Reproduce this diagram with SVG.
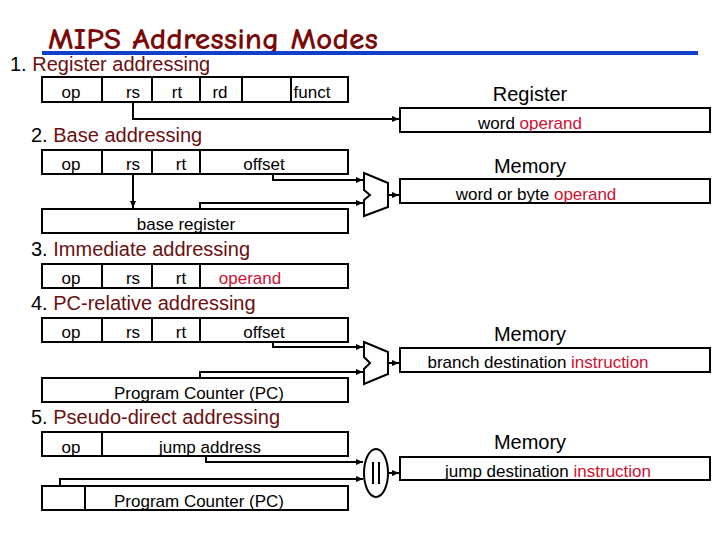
<svg xmlns="http://www.w3.org/2000/svg" width="720" height="540" viewBox="0 0 720 540">
<defs>
<marker id="ah" markerWidth="8" markerHeight="8" refX="7" refY="4" orient="auto" markerUnits="userSpaceOnUse"><path d="M0,1 L7,4 L0,7 Z" fill="#000"/></marker>
<style>
text{font-family:"Liberation Sans",Arial,sans-serif;fill:#000}
.f{font-size:17px;text-anchor:middle}
.h{font-size:20px}
.h tspan.r{fill:#6b0f0f}
.l{font-size:20px;text-anchor:middle}
.box{fill:#fff;stroke:#000;stroke-width:2}
.ln{fill:none;stroke:#000;stroke-width:2}
.w{fill:none;stroke:#000;stroke-width:2;marker-end:url(#ah)}
.red{fill:#d01030}
</style>
</defs>
<rect width="720" height="540" fill="#fff"/>
<g id="title">
<text x="48" y="49" style="font-family:'Comic Neue','DejaVu Sans',sans-serif;font-size:30px;fill:#7a0a0a;font-weight:bold" textLength="330" lengthAdjust="spacingAndGlyphs">MIPS Addressing Modes</text>
<rect x="42" y="51" width="656" height="4" fill="#1040c8"/>
</g>
<g id="h1"><text class="h" x="10" y="71">1. <tspan class="r">Register addressing</tspan></text></g>
<g id="instr1">
<rect class="box" x="42" y="77" width="306" height="25"/>
<path class="ln" d="M102,77V102M152,77V102M200,77V102M242,77V102M291,77V102"/>
<text class="f" x="71" y="98">op</text><text class="f" x="133" y="98">rs</text><text class="f" x="177" y="98">rt</text><text class="f" x="220" y="98">rd</text><text class="f" x="312" y="98">funct</text>
</g>
<g id="reg"><text class="l" x="530" y="101">Register</text>
<rect class="box" x="400" y="108" width="310" height="24"/>
<text class="f" x="530" y="129">word <tspan class="red">operand</tspan></text></g>
<g id="h2"><text class="h" x="31" y="142">2. <tspan class="r">Base addressing</tspan></text></g>
<g id="instr2">
<rect class="box" x="42" y="150" width="306" height="24"/>
<path class="ln" d="M102,150V174M152,150V174M200,150V174"/>
<text class="f" x="71" y="170">op</text><text class="f" x="133" y="170">rs</text><text class="f" x="181" y="170">rt</text><text class="f" x="264" y="170">offset</text>
</g>
<g id="mem2"><text class="l" x="530" y="173">Memory</text>
<rect class="box" x="400" y="179" width="310" height="24"/>
<text class="f" x="536" y="200">word or byte <tspan class="red">operand</tspan></text></g>
<g id="basereg"><rect class="box" x="42" y="209" width="306" height="24"/><text class="f" x="186" y="230">base register</text></g>
<g id="mux2"><path class="box" d="M364,173L388,183V207L364,216V200L370,195L364,190Z"/></g>
<g id="h3"><text class="h" x="31" y="256">3. <tspan class="r">Immediate addressing</tspan></text></g>
<g id="instr3">
<rect class="box" x="42" y="264" width="306" height="24"/>
<path class="ln" d="M102,264V288M152,264V288M200,264V288"/>
<text class="f" x="71" y="284">op</text><text class="f" x="133" y="284">rs</text><text class="f" x="181" y="284">rt</text><text class="f red" x="250" y="284">operand</text>
</g>
<g id="h4"><text class="h" x="31" y="310">4. <tspan class="r">PC-relative addressing</tspan></text></g>
<g id="instr4">
<rect class="box" x="42" y="318" width="306" height="24"/>
<path class="ln" d="M102,318V342M152,318V342M200,318V342"/>
<text class="f" x="71" y="338">op</text><text class="f" x="133" y="338">rs</text><text class="f" x="181" y="338">rt</text><text class="f" x="264" y="338">offset</text>
</g>
<g id="mem4"><text class="l" x="530" y="341">Memory</text>
<rect class="box" x="400" y="348" width="310" height="24"/>
<text class="f" x="538" y="368">branch destination <tspan class="red">instruction</tspan></text></g>
<g id="pc4"><rect class="box" x="42" y="378" width="306" height="24"/><text class="f" x="199" y="399">Program Counter (PC)</text></g>
<g id="mux4"><path class="box" d="M364,342L388,352V374L364,384V369L370,363L364,357Z"/></g>
<g id="h5"><text class="h" x="31" y="424">5. <tspan class="r">Pseudo-direct addressing</tspan></text></g>
<g id="instr5">
<rect class="box" x="42" y="432" width="306" height="24"/>
<path class="ln" d="M102,432V456"/>
<text class="f" x="71" y="453">op</text><text class="f" x="210" y="453">jump address</text>
</g>
<g id="mem5"><text class="l" x="530" y="449">Memory</text>
<rect class="box" x="400" y="457" width="310" height="23"/>
<text class="f" x="548" y="477">jump destination <tspan class="red">instruction</tspan></text></g>
<g id="pc5"><rect class="box" x="42" y="486" width="306" height="24"/><path class="ln" d="M85,486V510"/><text class="f" x="199" y="507">Program Counter (PC)</text></g>
<g id="concat"><ellipse class="box" cx="376" cy="473" rx="12" ry="24"/><path class="ln" d="M373,462V484M379,462V484" stroke-width="1.5"/></g>
<g id="connectors">
<path class="w" d="M133,102V119H399"/>
<path class="w" d="M133,174V208"/>
<path class="w" d="M273,174V180H363"/>
<path class="w" d="M200,209V203H363"/>
<path class="w" d="M388,195H399"/>
<path class="w" d="M273,342V347H363"/>
<path class="w" d="M200,378V372H363"/>
<path class="w" d="M388,363H399"/>
<path class="w" d="M206,456V462H363"/>
<path class="w" d="M60,486V479H363"/>
<path class="w" d="M388,473H399"/>
</g>
</svg>
